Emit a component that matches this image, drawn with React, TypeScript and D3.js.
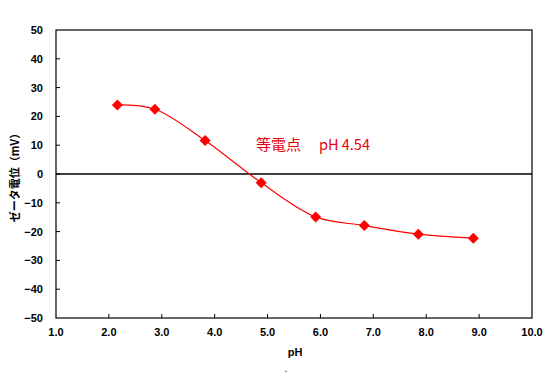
import React from "react";
import * as d3 from "d3";

const phValues = [2.16, 2.87, 3.82, 4.88, 5.91, 6.83, 7.85, 8.89];
const zetaValues = [24.0, 22.5, 11.6, -3.0, -14.9, -17.9, -20.9, -22.3];
const xTicks = [1, 2, 3, 4, 5, 6, 7, 8, 9, 10];
const yTicks = [-50, -40, -30, -20, -10, 0, 10, 20, 30, 40, 50];
const annotationLabel = "等電点";
const annotationValue = "pH 4.54";
const xTitle = "pH";
const yTitle = "ゼータ電位（mV）";

const W = 550;
const H = 382;
const m = { left: 56, right: 532, top: 30, bottom: 318 };

export default function App() {
  const x = d3.scaleLinear().domain([1, 10]).range([m.left, m.right]);
  const y = d3.scaleLinear().domain([-50, 50]).range([m.bottom, m.top]);
  const pts = phValues.map((p, i) => [p, zetaValues[i]] as [number, number]);
  const line = d3
    .line<[number, number]>()
    .x((d) => x(d[0]))
    .y((d) => y(d[1]))
    .curve(d3.curveCatmullRom.alpha(0.5));
  const font = "'Liberation Sans', Arial, sans-serif";
  const cjk = "'Noto Sans CJK JP', 'Noto Sans', sans-serif";
  return (
    <svg
      width={W}
      height={H}
      style={{ position: "absolute", left: 0, top: 0, background: "#fff" }}
    >
      <rect
        x={m.left}
        y={m.top}
        width={m.right - m.left}
        height={m.bottom - m.top}
        fill="#fff"
        stroke="#000"
        strokeWidth={1.2}
      />
      {xTicks.slice(1, -1).map((t) => (
        <line key={"xt" + t} x1={x(t)} x2={x(t)} y1={m.bottom} y2={m.bottom - 4} stroke="#000" />
      ))}
      {yTicks.slice(1, -1).map((t) => (
        <line key={"yt" + t} x1={m.left} x2={m.left + 4} y1={y(t)} y2={y(t)} stroke="#000" />
      ))}
      {xTicks.map((t) => (
        <text
          key={"xl" + t}
          x={x(t)}
          y={m.bottom + 18}
          textAnchor="middle"
          fontFamily={font}
          fontWeight="bold"
          fontSize={11}
          fill="#000"
        >
          {t.toFixed(1)}
        </text>
      ))}
      {yTicks.map((t) => (
        <text
          key={"yl" + t}
          x={m.left - 13}
          y={y(t) + 4}
          textAnchor="end"
          fontFamily={font}
          fontWeight="bold"
          fontSize={11}
          fill="#000"
        >
          {t === 0 ? "0" : t < 0 ? "−" + Math.abs(t) : String(t)}
        </text>
      ))}
      <line x1={x(1)} x2={x(10)} y1={y(0)} y2={y(0)} stroke="#000" strokeWidth={1.3} />
      <path d={line(pts) || ""} fill="none" stroke="#ff0000" strokeWidth={1.2} />
      {pts.map((d, i) => (
        <path
          key={"m" + i}
          d="M0,-5.5L5.5,0L0,5.5L-5.5,0Z"
          transform={`translate(${x(d[0])},${y(d[1])})`}
          fill="#ff0000"
        />
      ))}
      <text x={256} y={150} fontFamily={cjk} fontSize={15} fill="#e8000f">
        {annotationLabel}
      </text>
      <text x={319} y={150} fontFamily={cjk} fontSize={14.5} fill="#e8000f">
        {annotationValue}
      </text>
      <text
        x={295}
        y={356}
        textAnchor="middle"
        fontFamily={font}
        fontWeight="bold"
        fontSize={11}
        fill="#000"
      >
        {xTitle}
      </text>
      <text x={286} y={372} textAnchor="middle" fontFamily={font} fontSize={10} fill="#000">
        .
      </text>
      <text
        transform={`translate(19,175) rotate(-90)`}
        textAnchor="middle"
        fontFamily={cjk}
        fontWeight="bold"
        fontSize={11}
        fill="#000"
      >
        {yTitle}
      </text>
    </svg>
  );
}
